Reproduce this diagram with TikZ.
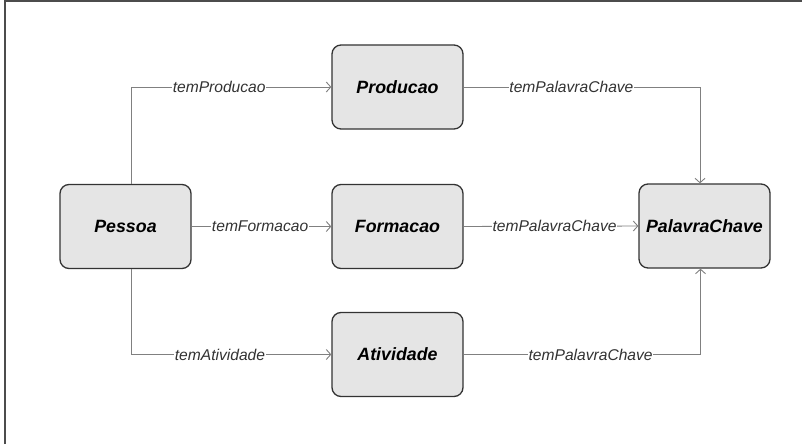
\documentclass[tikz,border=0pt]{standalone}
\usepackage{fontspec}
\setmainfont{Liberation Sans}
\usetikzlibrary{arrows.meta}
\begin{document}
\begin{tikzpicture}[x=1pt,y=-1pt,
  entity/.style={draw=black!80, line width=1.3pt, fill=black!10,
    rounded corners=9pt, minimum width=131pt, minimum height=84pt, inner sep=0pt,
    font=\fontsize{17.8}{20}\selectfont\bfseries\itshape},
  rel/.style={draw=black!50, line width=0.9pt,
    -{Straight Barb[length=4.5pt,width=10pt,line width=0.9pt]}},
  lbl/.style={fill=white, inner sep=0.5pt, text=black!80,
    font=\fontsize{15.6}{18}\selectfont\itshape}]
\useasboundingbox (0,0) rectangle (802,444);
% frame edges
\draw[black!70, line width=2pt] (4.5,444) -- (4.5,1.5) -- (802,1.5);

% entities
\node[entity] (pessoa)   at (125.5,226.5) {Pessoa};
\node[entity] (producao) at (397.5,87)    {Producao};
\node[entity] (formacao) at (397.5,226.5) {Formacao};
\node[entity] (atividade) at (397.5,354.5) {Atividade};
\node[entity] (palavra)  at (704.5,226)   {PalavraChave};

% relations from Pessoa
\draw[rel] ([xshift=5.5pt]pessoa.north) |- node[lbl, pos=0.72] {temProducao} (producao.west);
\draw[rel] (pessoa.east) -- node[lbl, pos=0.49] {temFormacao} (formacao.west);
\draw[rel] ([xshift=5.5pt]pessoa.south) |- node[lbl, pos=0.722] {temAtividade} (atividade.west);

% relations to PalavraChave
\draw[rel] (producao.east) -| node[lbl, pos=0.228] {temPalavraChave} ([xshift=-4.5pt]palavra.north);
\draw[rel] (formacao.east) -- node[lbl, pos=0.52] {temPalavraChave} (palavra.west);
\draw[rel] (atividade.east) -| node[lbl, pos=0.268] {temPalavraChave} ([xshift=-4pt]palavra.south);
\end{tikzpicture}
\end{document}
